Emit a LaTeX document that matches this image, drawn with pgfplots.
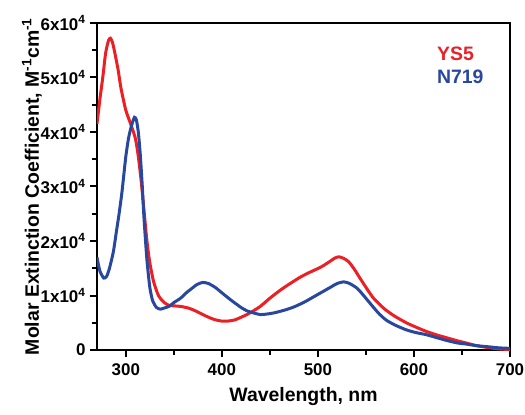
\documentclass[border=0pt]{standalone}
\usepackage{fontspec}
\setmainfont{Liberation Sans}
\usepackage{pgfplots}
\pgfplotsset{compat=1.18}
\definecolor{ysred}{RGB}{236,32,36}
\definecolor{nblue}{RGB}{40,72,160}

\begin{document}
\begin{tikzpicture}[x=1bp,y=1bp]
\begin{axis}[
    name=ax,
    scale only axis,
    width=413bp, height=327bp,
    xmin=270, xmax=700, ymin=0, ymax=6,
    xtick={300,400,500,600,700},
    minor xtick={350,450,550,650},
    ytick={0,1,2,3,4,5,6},
    yticklabels={0,1x10\textsuperscript{4},2x10\textsuperscript{4},3x10\textsuperscript{4},4x10\textsuperscript{4},5x10\textsuperscript{4},6x10\textsuperscript{4}},
    minor ytick={0.5,1.5,2.5,3.5,4.5,5.5},
    xticklabel style={font=\fontsize{17}{18}\selectfont\bfseries, yshift=-3bp},
    yticklabel style={font=\fontsize{17}{18}\selectfont\bfseries, xshift=-1bp},
    /pgf/number format/assume math mode=true,
    xlabel={Wavelength, nm},
    ylabel={Molar Extinction Coefficient, M\textsuperscript{-1}cm\textsuperscript{-1}},
    label style={font=\fontsize{19.5}{21}\selectfont\bfseries},
    xlabel style={yshift=-5bp},
    ylabel style={yshift=-8bp},
    axis line style={line width=2.6bp},
    tick style={line width=2bp, black},
    major tick length=7bp,
    minor tick length=5bp,
    tick align=outside,
    xtick pos=bottom, ytick pos=left,
    clip=true,
]
% YS5
\addplot[color=ysred, line width=3bp, smooth, tension=0.4] coordinates {
(270,4.15)(273,4.6)(276,5.0)(279,5.45)(282,5.68)(284,5.72)(286,5.65)(288,5.5)
(292,5.14)(295,4.8)(300,4.4)(305,4.15)(310,3.88)(313,3.55)(316,3.1)(319,2.55)
(322,2.0)(325,1.6)(329,1.25)(334,1.0)(340,0.87)(345,0.82)(350,0.81)(357,0.8)
(365,0.77)(371,0.73)(378,0.67)(385,0.61)(392,0.56)(400,0.53)(406,0.53)(413,0.55)
(420,0.6)(426,0.65)(432,0.71)(440,0.8)(450,0.95)(461,1.1)(472,1.23)(482,1.34)
(492,1.43)(503,1.52)(512,1.62)(518,1.69)(522,1.71)(527,1.68)(532,1.62)(538,1.48)
(543,1.34)(550,1.15)(557,0.97)(564,0.84)(571,0.73)(580,0.62)(592,0.5)(602,0.42)
(613,0.34)(623,0.28)(633,0.23)(645,0.17)(654,0.13)(665,0.08)(675,0.05)(688,0.02)(700,0.01)
};
% N719
\addplot[color=nblue, line width=3bp, smooth, tension=0.4] coordinates {
(270,1.7)(273,1.45)(277,1.32)(280,1.35)(283,1.5)(287,1.8)(290,2.15)(293,2.5)
(296,2.9)(300,3.55)(303,3.9)(306,4.12)(309,4.27)(311,4.22)(313,4.0)(315,3.6)
(317,3.05)(319,2.4)(322,1.65)(325,1.15)(328,0.9)(332,0.78)(336,0.75)(340,0.77)
(345,0.8)(350,0.87)(357,0.95)(363,1.05)(368,1.12)(374,1.2)(380,1.24)(386,1.22)
(393,1.15)(400,1.05)(407,0.95)(413,0.87)(420,0.78)(426,0.72)(433,0.68)(440,0.65)
(447,0.66)(454,0.68)(465,0.73)(475,0.79)(486,0.88)(496,0.98)(505,1.07)(514,1.16)
(520,1.22)(527,1.25)(533,1.22)(541,1.13)(549,0.97)(557,0.8)(564,0.66)(571,0.55)
(580,0.46)(592,0.37)(602,0.32)(613,0.28)(623,0.23)(633,0.18)(645,0.13)(654,0.11)
(665,0.08)(677,0.06)(688,0.04)(700,0.03)
};
\node[anchor=west, text=ysred, font=\fontsize{19.5}{21}\selectfont\bfseries] at (rel axis cs:0.815,0.905) {YS5};
\node[anchor=west, text=nblue, font=\fontsize{19.5}{21}\selectfont\bfseries] at (rel axis cs:0.815,0.835) {N719};
\end{axis}
\pgfresetboundingbox
\path[use as bounding box] (ax.south west) ++(-97bp,-65bp) rectangle ++(525bp,415bp);
\end{tikzpicture}
\end{document}
